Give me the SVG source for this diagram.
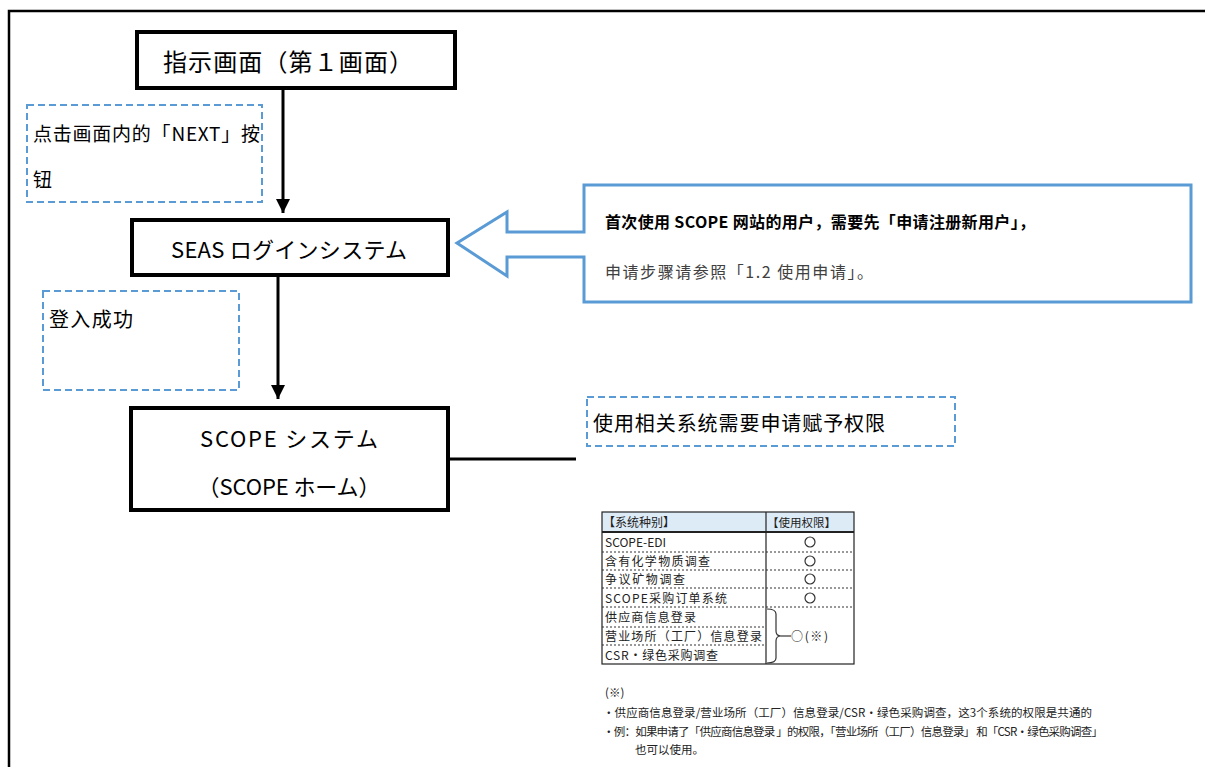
<svg xmlns="http://www.w3.org/2000/svg" width="1205" height="767" viewBox="0 0 1205 767">
<defs>
<marker id="ah" viewBox="0 0 10 10" refX="10" refY="5" markerWidth="14" markerHeight="14" markerUnits="userSpaceOnUse" orient="auto">
<path d="M0,0 L10,5 L0,10 Z" fill="#000"/>
</marker>
<style>
.node{fill:#fff;stroke:#000;stroke-width:4}
.dash{fill:#fff;stroke:#5B9BD5;stroke-width:2;stroke-dasharray:7 4}
.t{font-family:"Noto Sans CJK JP","Noto Sans CJK SC",sans-serif;fill:#000}
.c{font-family:"Noto Sans CJK SC",sans-serif;fill:#000}
.conn{stroke:#000;stroke-width:3;fill:none}
.tb{font-family:"Noto Sans CJK SC",sans-serif;font-size:12px;fill:#222}
.dot{stroke:#333;stroke-width:1;stroke-dasharray:2 2}
</style>
</defs>
<rect width="1205" height="767" fill="#fff"/>
<path d="M9,767 V11 H1205" fill="none" stroke="#000" stroke-width="2.5"/>

<g id="connectors">
<line class="conn" x1="283" y1="88" x2="283" y2="213" marker-end="url(#ah)"/>
<line class="conn" x1="278" y1="275" x2="278" y2="399" marker-end="url(#ah)"/>
<line class="conn" x1="449" y1="459" x2="576" y2="459"/>
</g>

<g id="node-instruction">
<rect class="node" x="137" y="32" width="318" height="56"/>
<text class="t" x="288" y="71" font-size="24" text-anchor="middle" textLength="250">指示画面（第１画面）</text>
</g>

<g id="note-next">
<rect class="dash" x="27" y="105" width="235" height="97"/>
<text class="c" x="33" y="141" font-size="19" textLength="227">点击画面内的「NEXT」按</text>
<text class="c" x="33" y="187" font-size="19">钮</text>
</g>

<g id="node-seas">
<rect class="node" x="132" y="220" width="316" height="55"/>
<text class="t" x="289" y="258" font-size="22" text-anchor="middle" textLength="236">SEAS ログインシステム</text>
</g>

<g id="callout-register">
<path d="M584,185 H1191 V302 H584 V257 H507 V276 L457,243 L507,212 V232 H584 Z" fill="#fff" stroke="#5B9BD5" stroke-width="3"/>
<text class="c" x="605" y="228" font-size="16" font-weight="bold" textLength="430">首次使用 SCOPE 网站的用户，需要先「申请注册新用户」，</text>
<text class="c" x="605" y="278" font-size="16" style="fill:#404040" textLength="268">申请步骤请参照「1.2  使用申请」。</text>
</g>

<g id="note-login">
<rect class="dash" x="43" y="291" width="196" height="99"/>
<text class="c" x="49" y="327" font-size="20" textLength="84">登入成功</text>
</g>

<g id="node-scope">
<rect class="node" x="131" y="408" width="317" height="102"/>
<text class="t" x="289" y="447" font-size="22" text-anchor="middle" textLength="178">SCOPE システム</text>
<text class="t" x="289" y="495" font-size="22" text-anchor="middle" textLength="183">（SCOPE ホーム）</text>
</g>

<g id="note-permission">
<rect class="dash" x="587" y="397" width="368" height="49"/>
<text class="c" x="593" y="431" font-size="20" textLength="292">使用相关系统需要申请赋予权限</text>
</g>

<g id="permission-table">
<rect x="602" y="512" width="252" height="20" fill="#DDEBF7"/>
<rect x="602" y="512" width="252" height="152" fill="none" stroke="#222" stroke-width="1.2"/>
<line x1="602" y1="532" x2="854" y2="532" stroke="#222" stroke-width="2"/>
<line x1="766" y1="512" x2="766" y2="664" stroke="#222" stroke-width="1.2"/>
<line class="dot" x1="602" y1="552" x2="854" y2="552"/>
<line class="dot" x1="602" y1="570" x2="854" y2="570"/>
<line class="dot" x1="602" y1="588" x2="854" y2="588"/>
<line class="dot" x1="602" y1="607" x2="854" y2="607"/>
<line class="dot" x1="602" y1="627" x2="766" y2="627"/>
<line class="dot" x1="602" y1="645" x2="766" y2="645"/>
<text class="tb" x="603" y="527">【系统种别】</text>
<text class="tb" x="767" y="527" font-size="11.5" style="font-size:11.5px">【使用权限】</text>
<text class="tb" x="605" y="547">SCOPE-EDI</text>
<text class="tb" x="605" y="566" textLength="105">含有化学物质调查</text>
<text class="tb" x="605" y="584" textLength="80">争议矿物调查</text>
<text class="tb" x="605" y="603" textLength="122">SCOPE采购订单系统</text>
<text class="tb" x="605" y="622" textLength="91">供应商信息登录</text>
<text class="tb" x="605" y="641" textLength="157">营业场所（工厂）信息登录</text>
<text class="tb" x="605" y="660" textLength="113">CSR•绿色采购调查</text>
<g fill="none" stroke="#333" stroke-width="1.2">
<circle cx="810" cy="542" r="5"/>
<circle cx="810" cy="561" r="5"/>
<circle cx="810" cy="579" r="5"/>
<circle cx="810" cy="598" r="5"/>
<path d="M767,609 Q776,609 776,614 V631 Q776,636 781,636 Q776,636 776,641 V658 Q776,663 767,663"/>
<line x1="781" y1="636" x2="791" y2="636"/>
</g>
<text class="tb" x="791" y="641" textLength="37">○(※)</text>
</g>

<g id="footnote" font-family="'Noto Sans CJK SC',sans-serif" font-size="11.5" fill="#222">
<text x="605" y="697">(※)</text>
<text x="603" y="717" textLength="489">・供应商信息登录/营业场所（工厂）信息登录/CSR•绿色采购调查，这3个系统的权限是共通的</text>
<text x="603" y="736" textLength="500">・例：如果申请了「供应商信息登录 」的权限，「营业场所（工厂）信息登录」 和「CSR•绿色采购调查」</text>
<text x="635" y="754">也可以使用。</text>
</g>
</svg>
